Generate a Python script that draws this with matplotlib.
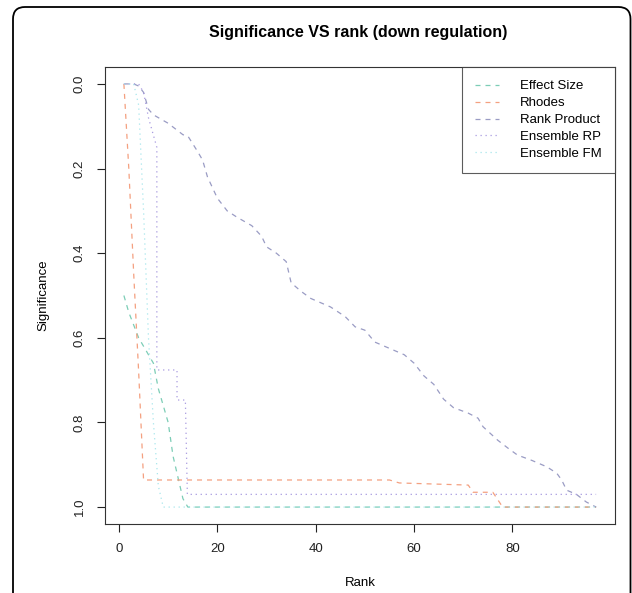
import matplotlib
matplotlib.use("Agg")
import matplotlib.pyplot as plt
from matplotlib.patches import FancyBboxPatch

plt.rcParams['font.family'] = ['Liberation Sans', 'DejaVu Sans']

# ---- data ----
es_rank = [1, 2, 3, 4, 5, 6, 7, 8, 9, 10, 11, 12, 13, 14, 97]
es_sig = [0.50, 0.54, 0.57, 0.60, 0.62, 0.64, 0.66, 0.72, 0.76, 0.80, 0.88, 0.93, 0.98, 1.00, 1.00]

rh_rank = [1, 2, 3, 4, 5, 55, 57, 71, 72, 76, 78, 97]
rh_sig = [0.0, 0.20, 0.45, 0.68, 0.936, 0.936, 0.943, 0.948, 0.965, 0.965, 1.0, 1.0]

rp_rank = [1, 3, 4, 5, 6, 7, 10, 13, 14, 16, 17, 18, 20, 22, 24, 27, 29, 30, 32, 34, 35,
           37, 39, 43, 46, 48, 50, 52, 55, 58, 60, 62, 64, 66, 68, 71, 73, 74, 77, 79, 81,
           84, 87, 89, 90, 91, 93, 95, 97]
rp_sig = [0.0, 0.0, 0.005, 0.02, 0.06, 0.073, 0.093, 0.12, 0.123, 0.16, 0.18, 0.22, 0.27,
          0.30, 0.315, 0.335, 0.36, 0.385, 0.40, 0.42, 0.47, 0.49, 0.507, 0.527, 0.55,
          0.574, 0.582, 0.61, 0.625, 0.64, 0.66, 0.69, 0.71, 0.745, 0.765, 0.778, 0.79,
          0.81, 0.842, 0.86, 0.877, 0.89, 0.905, 0.92, 0.936, 0.96, 0.97, 0.988, 1.0]

erp_rank = [1, 4, 5, 6, 7.7, 7.7, 11.8, 11.8, 13.5, 13.9, 97]
erp_sig = [0.0, 0.0, 0.02, 0.08, 0.15, 0.676, 0.676, 0.747, 0.747, 0.97, 0.97]

efm_rank = [1, 3, 4, 5, 6, 7, 8, 9, 97]
efm_sig = [0.0, 0.0, 0.05, 0.30, 0.60, 0.80, 0.95, 1.0, 1.0]

labels = ["Effect Size", "Rhodes", "Rank Product", "Ensemble RP", "Ensemble FM"]
colors = ["#7ccdb6", "#f4a080", "#9a9cc4", "#a89ae0", "#a8e6ec"]
styles = [(0, (4, 4)), (0, (4, 4)), (0, (4, 4)), (0, (1, 3)), (0, (1, 3))]

W, H = 632, 593
fig = plt.figure(figsize=(W / 100, H / 100), dpi=100)
fig.patch.set_facecolor("white")

# rounded outer frame
frame = FancyBboxPatch((13, -30), 630.5 - 13, (H - 7) + 30,
                       boxstyle="round,pad=0,rounding_size=12",
                       transform=None, fill=False, edgecolor="black", linewidth=1.3)
fig.patches.append(frame)

ax = fig.add_axes([105 / W, 1 - 524 / H, (615 - 105) / W, (524 - 67) / H])

series = [(es_rank, es_sig), (rh_rank, rh_sig), (rp_rank, rp_sig),
          (erp_rank, erp_sig), (efm_rank, efm_sig)]
for (x, y), lab, c, ls in zip(series, labels, colors, styles):
    ax.plot(x, y, color=c, linestyle=ls, linewidth=0.9, label=lab)

ax.set_xlim(1 - 0.04 * 96, 97 + 0.04 * 96)
ax.set_ylim(1.04, -0.04)
ax.set_xticks([0, 20, 40, 60, 80])
ax.set_yticks([0.0, 0.2, 0.4, 0.6, 0.8, 1.0])
ax.set_yticklabels(["0.0", "0.2", "0.4", "0.6", "0.8", "1.0"], rotation=90, va="center")
ax.tick_params(direction="out", length=6, width=0.8, labelsize=9.5, pad=8, colors="#222222")
for s in ax.spines.values():
    s.set_linewidth(0.8)
    s.set_color("#333333")

fig.text(358 / W, 1 - 32 / H, "Significance VS rank (down regulation)",
         ha="center", va="center", fontsize=11.5, fontweight="bold")
fig.text(360 / W, 1 - 583 / H, "Rank", ha="center", va="center", fontsize=9.5)
fig.text(43 / W, 1 - 295 / H, "Significance", ha="center", va="center",
         rotation=90, fontsize=9.5)

leg = ax.legend(loc="upper right", borderaxespad=0, fontsize=9.5, frameon=True,
                fancybox=False, edgecolor="#333333", handlelength=1.8,
                handletextpad=1.6, labelspacing=0.35, borderpad=1.0)
leg.get_frame().set_linewidth(0.8)

fig.savefig("out.png", dpi=100)
